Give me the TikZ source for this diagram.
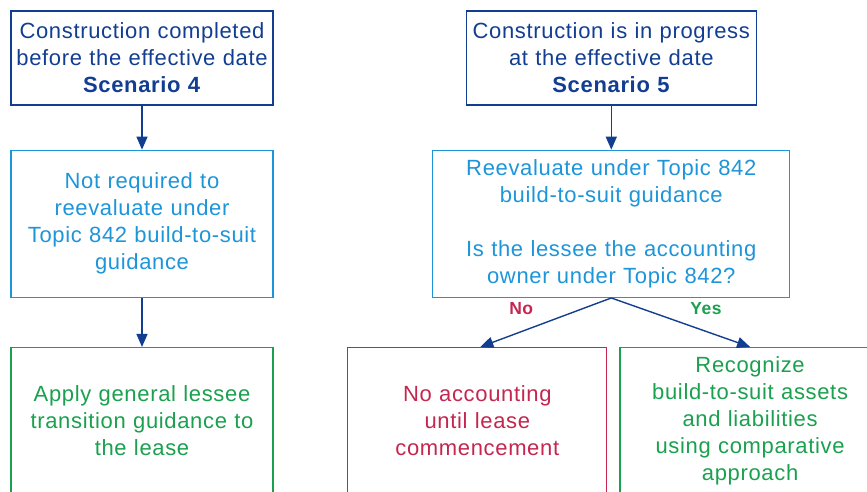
\documentclass[tikz,border=0pt]{standalone}
\usepackage{fontspec}
\setmainfont{Liberation Sans}[LetterSpace=3]
\usepackage{xcolor}
\usetikzlibrary{positioning, arrows.meta, calc}

\definecolor{navy}{HTML}{123E91}
\definecolor{skyblue}{HTML}{1C95D9}
\definecolor{leafgreen}{HTML}{1AA04E}
\definecolor{crimson}{HTML}{C4264F}

\begin{document}
\begin{tikzpicture}[
  box/.style={draw, line width=1.3pt, text width=#1, minimum height=147pt, align=center, font=\fontsize{22}{27}\selectfont},
  box/.default=254pt,
  lbl/.style={font=\fontsize{17.5}{20}\selectfont\bfseries},
  arr/.style={-{Triangle[length=13pt, width=11pt]}, line width=1.4pt, navy},
  every node/.style={inner sep=4pt},
]

% frame of the page
\useasboundingbox (0,0) rectangle (867pt,-491pt);
\clip (0,0) rectangle (867pt,-491pt);

% === SCENARIOS ===
\node[box, minimum height=94pt, draw=navy, text=navy] (start4) at (142pt,-58pt) {Construction completed\\before the effective date\\\textbf{Scenario 4}};
\node[box=282pt, minimum height=94pt, draw=navy, text=navy, right=192pt of start4] (start5) {Construction is in progress\\at the effective date\\\textbf{Scenario 5}};

% === REEVALUATION ===
\node[box, draw=skyblue, text=skyblue, below=44pt of start4] (noreeval) {Not required to\\reevaluate under\\Topic 842 build-to-suit\\guidance};
\node[box=349pt, draw=skyblue, text=skyblue, below=44pt of start5] (reeval) {Reevaluate under Topic 842\\build-to-suit guidance\\[27pt]Is the lessee the accounting\\owner under Topic 842?};

\draw[arr] (start4) -- (noreeval);
\draw[arr] (start5) -- (reeval);

% === OUTCOMES ===
\node[box, draw=leafgreen, text=leafgreen, below=49pt of noreeval] (general) {Apply general lessee\\transition guidance to\\the lease};
\node[box=251pt, draw=crimson, text=crimson, below=49pt of reeval, xshift=-134pt] (noacct) {No accounting\\until lease\\commencement};
\node[box=252pt, draw=leafgreen, text=leafgreen, right=12pt of noacct] (recog) {Recognize\\build-to-suit assets\\and liabilities\\using comparative\\approach};

\draw[arr] (noreeval) -- (general);
\draw[arr] (reeval.south) -- node[lbl, crimson, above left, xshift=-8pt, yshift=3pt] {No} ([xshift=3pt]noacct.north);
\draw[arr] (reeval.south) -- node[lbl, leafgreen, above right, xshift=5pt, yshift=3pt] {Yes} (recog.north);

\end{tikzpicture}
\end{document}
